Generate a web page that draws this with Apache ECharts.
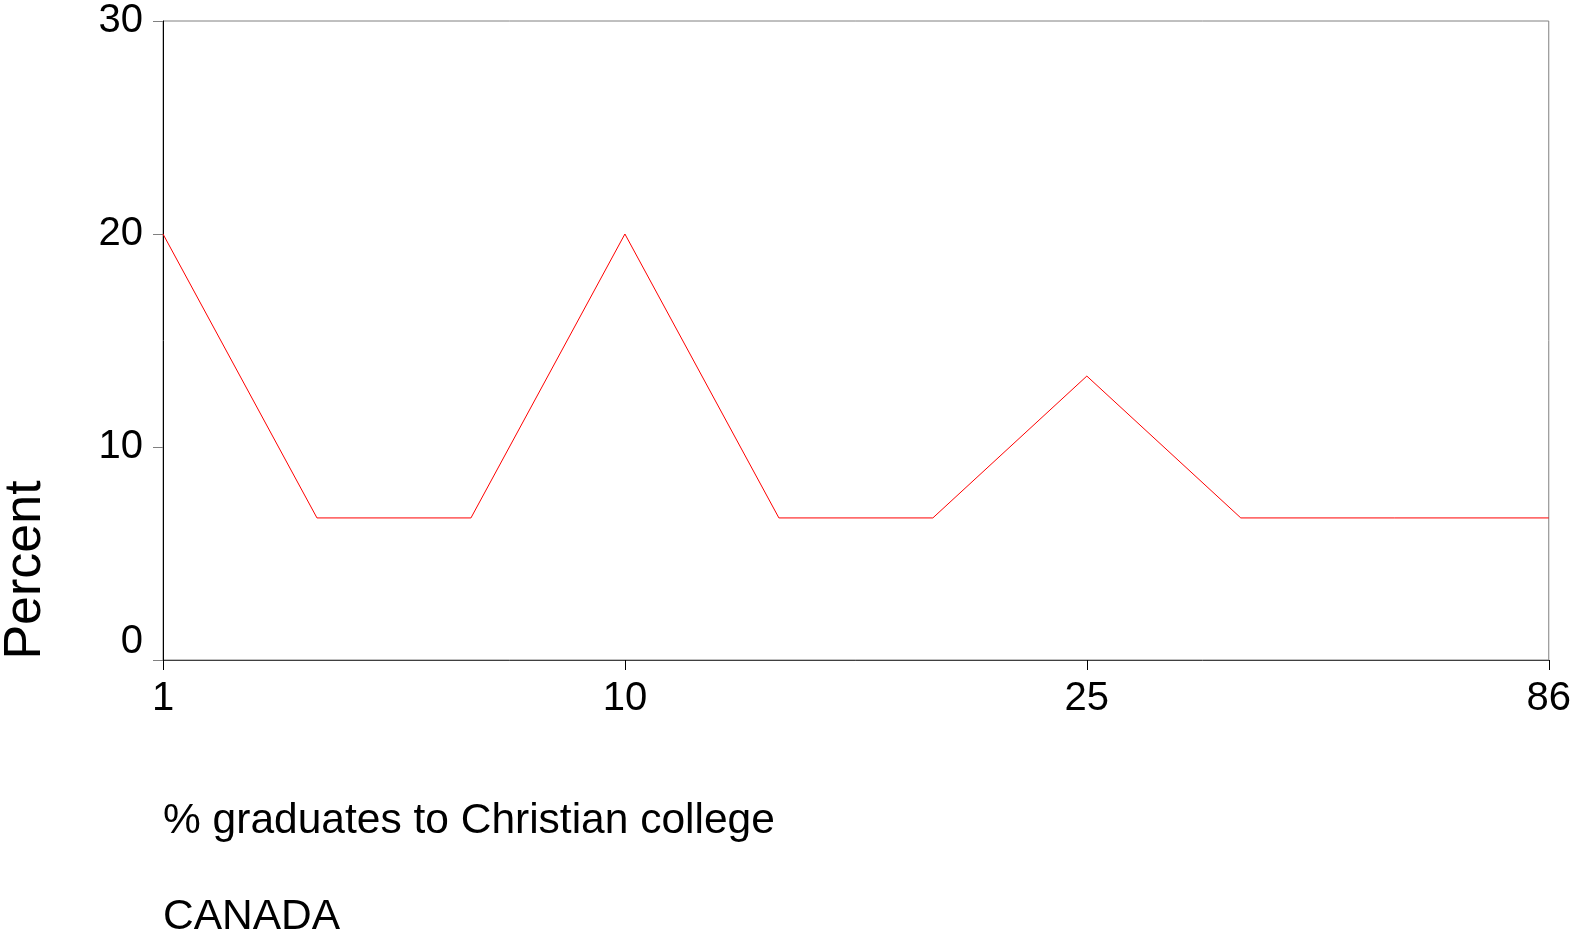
<!DOCTYPE html>
<html>
<head>
<meta charset="utf-8">
<script src="https://cdn.jsdelivr.net/npm/echarts@6/dist/echarts.min.js"></script>
<style>html,body{margin:0;padding:0;background:#fff;}#c{width:1574px;height:934px;}</style>
</head>
<body>
<div id="c"></div>
<script>
// Categories (only 1, 10, 25, 86 are labelled in the original; others unlabelled)
const categories = ['1', 'b', 'c', '10', 'e', 'f', '25', 'h', 'i', '86'];
const percentValues = [20, 6.67, 6.67, 20, 6.67, 6.67, 13.33, 6.67, 6.67, 6.67];
const yTicks = [0, 10, 20, 30];
const xTitle = '% graduates to Christian college';
const subTitle = 'CANADA';
const yTitle = 'Percent';

const FONT = '"Liberation Sans", Arial, Helvetica, sans-serif';
const chart = echarts.init(document.getElementById('c'), null, {renderer: 'canvas'});
chart.setOption({
  animation: false,
  backgroundColor: '#fff',
  grid: {left: 163, right: 23, top: 21, bottom: 274, show: true, borderColor: '#808080', borderWidth: 1, backgroundColor: 'transparent'},
  xAxis: {
    type: 'category',
    data: categories,
    boundaryGap: false,
    axisLine: {show: true, lineStyle: {color: '#404040', width: 1}},
    axisTick: {show: true, interval: 2, length: 10, inside: false, lineStyle: {color: '#000'}},
    axisLabel: {show: true, interval: 2, margin: 19, color: '#000', fontSize: 40, fontFamily: FONT},
    splitLine: {show: false}
  },
  yAxis: {
    type: 'value',
    min: yTicks[0], max: yTicks[yTicks.length - 1], interval: 10,
    axisLine: {show: true, lineStyle: {color: '#000', width: 1}},
    axisTick: {show: true, length: 10, lineStyle: {color: '#808080'}},
    axisLabel: {
      show: true, margin: 20, color: '#000', fontSize: 40, fontFamily: FONT,
      formatter: v => v === 0 ? '{z|0}' : String(v),
      rich: {z: {fontSize: 40, fontFamily: FONT, color: '#000', padding: [0, 0, 36, 0]}}
    },
    splitLine: {show: false}
  },
  series: [{
    type: 'line',
    data: percentValues,
    symbol: 'none',
    lineStyle: {color: '#ff0000', width: 1},
    z: 5
  }],
  graphic: [
    {type: 'text', x: 26, y: 570, rotation: Math.PI / 2,
     style: {text: yTitle, fontSize: 52, fontFamily: FONT, fill: '#000', align: 'center', verticalAlign: 'middle'}},
    {type: 'text', x: 163, y: 821,
     style: {text: xTitle, fontSize: 42.5, fontFamily: FONT, fill: '#000', align: 'left', verticalAlign: 'middle'}},
    {type: 'text', x: 163, y: 917,
     style: {text: subTitle, fontSize: 42.5, fontFamily: FONT, fill: '#000', align: 'left', verticalAlign: 'middle'}}
  ]
});
</script>
</body>
</html>
